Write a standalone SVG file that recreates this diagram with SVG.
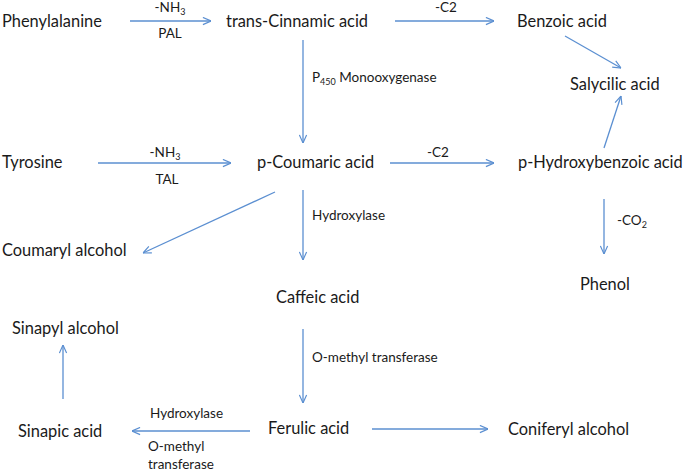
<svg xmlns="http://www.w3.org/2000/svg" width="685" height="471" viewBox="0 0 685 471">
<style>
.n{font-family:Lato,"Liberation Sans",sans-serif;font-size:16.4px;fill:#1a1a1a}
.l{font-family:Lato,"Liberation Sans",sans-serif;font-size:13.5px;fill:#1a1a1a}
.s{font-size:9px}
.c line{stroke:#5b8fd1;stroke-width:1.3;fill:none;marker-end:url(#a)}
</style>
<defs>
<marker id="a" viewBox="0 0 10 10" refX="10" refY="5" markerWidth="9" markerHeight="9" markerUnits="userSpaceOnUse" orient="auto">
<path d="M1,1 L10,5 L1,9" fill="none" stroke="#5b8fd1" stroke-width="1.3"/>
</marker>
</defs>
<rect width="685" height="471" fill="#fff"/>
<g class="c" id="connectors">
<line x1="130" y1="21" x2="211" y2="21"/>
<line x1="395" y1="21" x2="494" y2="21"/>
<line x1="565" y1="36" x2="621" y2="68"/>
<line x1="604" y1="148" x2="621" y2="96"/>
<line x1="303" y1="40" x2="303" y2="143"/>
<line x1="98" y1="163" x2="231" y2="163"/>
<line x1="390" y1="163" x2="494" y2="163"/>
<line x1="275" y1="192" x2="143" y2="253"/>
<line x1="303" y1="190" x2="303" y2="260"/>
<line x1="604" y1="199" x2="604" y2="254"/>
<line x1="63" y1="399" x2="63" y2="345"/>
<line x1="303" y1="329" x2="303" y2="403"/>
<line x1="250" y1="431" x2="132" y2="431"/>
<line x1="372" y1="429" x2="488" y2="429"/>
</g>
<g id="labels">
<text class="l" x="170" y="12" text-anchor="middle">-NH<tspan class="s" dy="3">3</tspan></text>
<text class="l" x="170" y="38" text-anchor="middle">PAL</text>
<text class="l" x="446" y="12" text-anchor="middle">-C2</text>
<text class="l" x="312" y="82">P<tspan class="s" dy="3">450</tspan><tspan dy="-3"> Monooxygenase</tspan></text>
<text class="l" x="165" y="157" text-anchor="middle">-NH<tspan class="s" dy="3">3</tspan></text>
<text class="l" x="167" y="184" text-anchor="middle">TAL</text>
<text class="l" x="438" y="157" text-anchor="middle">-C2</text>
<text class="l" x="312" y="220">Hydroxylase</text>
<text class="l" x="617" y="225">-CO<tspan class="s" dy="3">2</tspan></text>
<text class="l" x="312" y="362">O-methyl transferase</text>
<text class="l" x="150" y="418">Hydroxylase</text>
<text class="l" x="148" y="451">O-methyl</text>
<text class="l" x="148" y="469">transferase</text>
</g>
<g id="phenylalanine"><text class="n" x="2" y="27">Phenylalanine</text></g>
<g id="cinnamic"><text class="n" x="226" y="27">trans-Cinnamic acid</text></g>
<g id="benzoic"><text class="n" x="517" y="27">Benzoic acid</text></g>
<g id="salycilic"><text class="n" x="570" y="90">Salycilic acid</text></g>
<g id="tyrosine"><text class="n" x="2" y="168">Tyrosine</text></g>
<g id="coumaric"><text class="n" x="257" y="168">p-Coumaric acid</text></g>
<g id="hydroxybenzoic"><text class="n" x="518" y="168">p-Hydroxybenzoic acid</text></g>
<g id="coumaryl"><text class="n" x="2" y="256">Coumaryl alcohol</text></g>
<g id="phenol"><text class="n" x="580" y="290">Phenol</text></g>
<g id="caffeic"><text class="n" x="276" y="303">Caffeic acid</text></g>
<g id="sinapyl"><text class="n" x="12" y="334">Sinapyl alcohol</text></g>
<g id="ferulic"><text class="n" x="268" y="434">Ferulic acid</text></g>
<g id="sinapic"><text class="n" x="18" y="437">Sinapic acid</text></g>
<g id="coniferyl"><text class="n" x="508" y="435">Coniferyl alcohol</text></g>
</svg>
